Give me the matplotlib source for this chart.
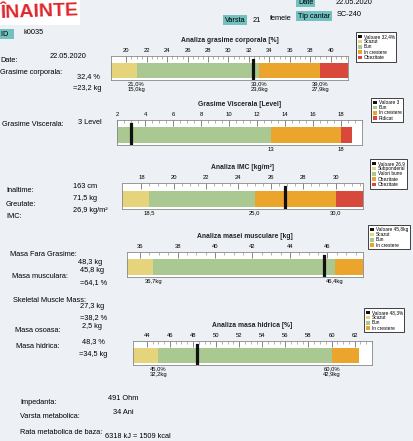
import matplotlib.pyplot as plt
from matplotlib.patches import Patch, Rectangle

plt.rcParams['font.family'] = ['Liberation Sans', 'DejaVu Sans']

W, H = 413, 441

# culori
YEL = '#e6d47c'
GRN = '#a9c892'
ORA = '#eba52c'
RED = '#d9493b'
TEAL = '#72c0c0'

# grasime corporala
fat_ticks = list(range(20, 41, 2))
fat_bounds = [21.0, 33.0, 39.0]
fat_colors = [YEL, GRN, ORA, RED]
fat_value = 32.4
fat_bound_labels = ["21,0%\n15,0kg", "33,0%\n23,6kg", "39,0%\n27,9kg"]
fat_legend = ["Valoare 32,4%", "Scazut", "Bun", "In crestere", "Obezitate"]

# grasime viscerala
visc_ticks = list(range(2, 19, 2))
visc_bounds = [13, 18]
visc_colors = [GRN, ORA, RED]
visc_value = 3
visc_bound_labels = ["13", "18"]
visc_legend = ["Valoare 3", "Bun", "In crestere", "Ridicat"]

# IMC
imc_ticks = list(range(18, 31, 2))
imc_bounds = [18.5, 25.0, 30.0]
imc_colors = [YEL, GRN, ORA, RED]
imc_value = 26.9
imc_bound_labels = ["18,5", "25,0", "30,0"]
imc_legend = ["Valoare 26,9", "Subponderal", "Valori bune", "Obezitate", "Obezitate"]

# masa musculara
musc_ticks = list(range(36, 47, 2))
musc_bounds = [36.7, 46.4]
musc_colors = [YEL, GRN, ORA]
musc_value = 45.8
musc_bound_labels = ["36,7kg", "46,4kg"]
musc_legend = ["Valoare 45,8kg", "Scazut", "Bun", "In crestere"]

# masa hidrica
hid_ticks = list(range(44, 63, 2))
hid_bounds = [45.0, 60.0]
hid_colors = [YEL, GRN, ORA]
hid_value = 48.3
hid_bound_labels = ["45,0%\n32,2kg", "60,0%\n42,9kg"]
hid_legend = ["Valoare 48,3%", "Scazut", "Bun", "In crestere"]


def fx(x):
    return x / W


def fy(y):
    return 1 - y / H


fig = plt.figure(figsize=(W / 100, H / 100), dpi=100)
fig.patch.set_facecolor('#edf0f5')


def txt(x, y, s, size=5.3, **kw):
    fig.text(fx(x), fy(y), s, fontsize=size, va='center', **kw)


def box(x, y, s, size=5.3):
    fig.text(fx(x), fy(y), s, fontsize=size, va='center',
             bbox=dict(boxstyle='square,pad=0.25', facecolor=TEAL, edgecolor='none'))


def bar(px, title, xlim, ticks, bounds, colors, value, blabels, legend, leg_xy):
    left, right, top, bottom = px
    ax = fig.add_axes([fx(left), fy(bottom), (right - left) / W, (bottom - top) / H])
    ax.set_facecolor('white')
    ax.set_xlim(*xlim)
    ax.set_ylim(0, 1)
    edges = [xlim[0]] + bounds + [xlim[1]]
    for i, c in enumerate(colors):
        ax.barh(0.40, edges[i + 1] - edges[i], left=edges[i], height=0.62, color=c)
    ax.axvline(value, ymin=0.02, ymax=0.84, color='#111', lw=2.3)
    ax.set_xticks(ticks)
    ax.set_xticklabels([str(t) for t in ticks])
    step = ticks[1] - ticks[0]
    ax.set_xticks([t + step * k / 4 for t in ticks for k in range(1, 4)], minor=True)
    ax.xaxis.tick_top()
    ax.tick_params(axis='x', which='major', direction='in', length=4, width=0.5,
                   labelsize=4.2, pad=2, color='#555')
    ax.tick_params(axis='x', which='minor', direction='in', length=2, width=0.4, color='#777')
    ax.set_yticks([])
    for s in ax.spines.values():
        s.set_color('#888')
        s.set_linewidth(0.6)
    for b, lab in zip(bounds, blabels):
        ax.text(b, -0.06, lab, transform=ax.get_xaxis_transform(), ha='center', va='top',
                fontsize=4.2, linespacing=1.25)
    ax.set_title(title, fontsize=4.9, fontweight='bold', pad=10, color='#222')
    handles = [Patch(facecolor='#111')] + [Patch(facecolor=c) for c in colors[:len(legend) - 1]]
    leg = ax.legend(handles, legend, loc='upper left', bbox_to_anchor=(fx(leg_xy[0]), fy(leg_xy[1])),
                    bbox_transform=fig.transFigure, fontsize=3.4, handlelength=0.8,
                    handleheight=0.8, handletextpad=0.4, borderpad=0.35, labelspacing=0.05,
                    fancybox=False, framealpha=1)
    leg.get_frame().set_edgecolor('#222')
    leg.get_frame().set_linewidth(0.6)
    return ax


bar((111, 348, 56, 80), "Analiza grasime corporala [%]", (18.5, 41.7), fat_ticks,
    fat_bounds, fat_colors, fat_value, fat_bound_labels, fat_legend, (354, 30))
bar((117, 362, 120, 145), "Grasime Viscerala [Level]", (2, 18.8), visc_ticks,
    visc_bounds, visc_colors, visc_value, visc_bound_labels, visc_legend, (369, 96))
bar((122, 363, 183, 209), "Analiza IMC [kg/m\u00b2]", (16.8, 31.7), imc_ticks,
    imc_bounds, imc_colors, imc_value, imc_bound_labels, imc_legend, (368, 157))
bar((127, 363, 252, 277), "Analiza masei musculare [kg]", (35.3, 47.9), musc_ticks,
    musc_bounds, musc_colors, musc_value, musc_bound_labels, musc_legend, (366, 223))
bar((133, 372, 341, 365), "Analiza masa hidrica [%]", (42.8, 62.4), hid_ticks,
    hid_bounds, hid_colors, hid_value, hid_bound_labels, hid_legend, (362, 306))

# antet
fig.patches.append(Rectangle((0, fy(25)), fx(80), 25 / H, transform=fig.transFigure,
                             facecolor='white', edgecolor='none'))
fig.text(fx(0), fy(12), "ÎNAINTE", fontsize=14, fontweight='bold', color='#e0262c',
         va='center', rotation=2)
box(298, 2, "Date")
txt(336, 2, "22.05.2020")
box(225, 20, "Varsta")
txt(253, 20, "21")
txt(270, 18, "femeie")
box(298, 16, "Tip cantar")
txt(337, 14, "SC-240")
box(1, 34, "ID  ")
txt(24, 33, "k0035")

# coloana stanga
txt(0, 60, "Date:")
txt(50, 56, "22.05.2020")
txt(0, 72, "Grasime corporala:")
txt(77, 77, "32,4 %")
txt(73, 88, "=23,2 kg")
txt(2, 125, "Grasime Viscerala:")
txt(78, 122, "3 Level")
txt(6, 191, "Inaltime:")
txt(73, 186, "163 cm")
txt(6, 204, "Greutate:")
txt(73, 198, "71,5 kg")
txt(6, 217, "IMC:")
txt(73, 211, "26,9 kg/m\u00b2")
txt(10, 254, "Masa Fara Grasime:")
txt(78, 262, "48,3 kg")
txt(12, 277, "Masa musculara:")
txt(80, 271, "45,8 kg")
txt(80, 283, "=64,1 %")
txt(13, 300, "Skeletal Muscle Mass:")
txt(80, 306, "27,3 kg")
txt(80, 318, "=38,2 %")
txt(15, 331, "Masa osoasa:")
txt(82, 326, "2,5 kg")
txt(16, 346, "Masa hidrica:")
txt(82, 342, "48,3 %")
txt(79, 354, "=34,5 kg")
txt(20, 402, "Impedanta:")
txt(108, 398, "491 Ohm")
txt(20, 417, "Varsta metabolica:")
txt(113, 412, "34 Ani")
txt(20, 432, "Rata metabolica de baza:")
txt(105, 437, "6318 kJ = 1509 kcal")

fig.savefig("out.png", dpi=100, facecolor=fig.get_facecolor())
